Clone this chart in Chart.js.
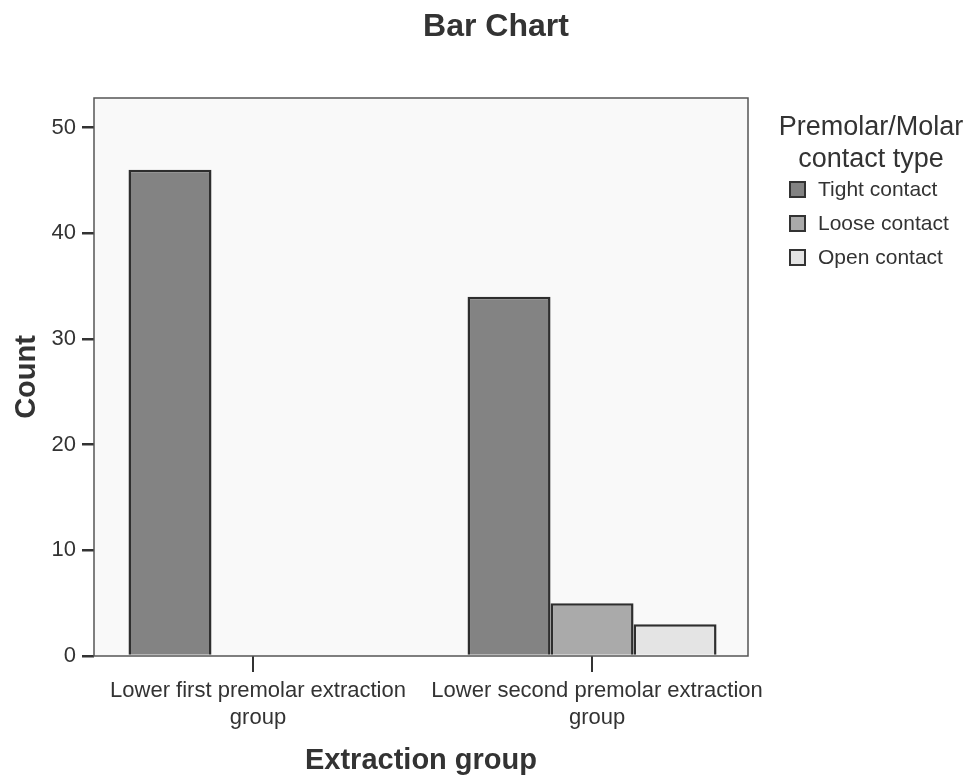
<!DOCTYPE html>
<html>
<head>
<meta charset="utf-8">
<script src="https://cdn.jsdelivr.net/npm/chart.js@4/dist/chart.umd.min.js"></script>
<style>
  html, body { margin: 0; padding: 0; background: #ffffff; }
  #wrap { width: 969px; height: 779px; position: relative; }
</style>
</head>
<body>
<div id="wrap"><canvas id="c" width="969" height="779"></canvas></div>
<script>
const chartTitle = 'Bar Chart';
const categories = [
  ['Lower first premolar extraction', 'group'],
  ['Lower second premolar extraction', 'group']
];
const seriesNames = ['Tight contact', 'Loose contact', 'Open contact'];
const tightValues = [46, 34];
const looseValues = [null, 5];
const openValues = [null, 3];
const yTicks = [0, 10, 20, 30, 40, 50];
const legendTitle = ['Premolar/Molar', 'contact type'];
const xTitle = 'Extraction group';
const yTitle = 'Count';

const colors = ['#838383', '#aaaaaa', '#e4e4e4'];
const FONT = "'Liberation Sans', Arial, sans-serif";
const TXT = '#333333';

// category axis whose value window is set explicitly (reference places the groups slightly asymmetrically)
const X_START = -0.469;
const X_RANGE = 1.929;
class ShiftedCategoryScale extends Chart.CategoryScale {
  configure() {
    super.configure();
    this._startValue = X_START;
    this._valueRange = X_RANGE;
  }
}
ShiftedCategoryScale.id = 'shiftedCategory';
ShiftedCategoryScale.defaults = Chart.CategoryScale.defaults;
Chart.register(ShiftedCategoryScale);

const decor = {
  id: 'decor',
  beforeDatasetsDraw(chart) {
    const {ctx, chartArea: a} = chart;
    ctx.save();
    ctx.fillStyle = '#f9f9f9';
    ctx.fillRect(a.left, a.top, a.right - a.left, a.bottom - a.top);
    ctx.restore();
  },
  afterDraw(chart) {
    const {ctx, chartArea: a} = chart;
    ctx.save();
    ctx.strokeStyle = '#555555';
    ctx.lineWidth = 1.5;
    ctx.strokeRect(a.left, a.top, a.right - a.left, a.bottom - a.top);
    // title
    ctx.fillStyle = TXT;
    ctx.textAlign = 'center';
    ctx.textBaseline = 'middle';
    ctx.font = "bold 32px " + FONT;
    ctx.fillText(chartTitle, 496, 27);
    // legend
    ctx.font = "27px " + FONT;
    ctx.fillText(legendTitle[0], 871, 128);
    ctx.fillText(legendTitle[1], 871, 160);
    ctx.font = "21px " + FONT;
    ctx.textAlign = 'left';
    chart.data.datasets.forEach((ds, i) => {
      const y = 190 + i * 34;
      ctx.fillStyle = ds.backgroundColor;
      ctx.fillRect(790, y - 8, 15, 15);
      ctx.strokeStyle = '#333333';
      ctx.lineWidth = 2;
      ctx.strokeRect(790, y - 8, 15, 15);
      ctx.fillStyle = TXT;
      ctx.fillText(ds.label, 818, y);
    });
    ctx.restore();
  }
};

new Chart(document.getElementById('c'), {
  type: 'bar',
  data: {
    labels: categories,
    datasets: [
      { label: seriesNames[0], data: tightValues, backgroundColor: colors[0] },
      { label: seriesNames[1], data: looseValues, backgroundColor: colors[1] },
      { label: seriesNames[2], data: openValues, backgroundColor: colors[2] }
    ]
  },
  options: {
    responsive: false,
    animation: false,
    devicePixelRatio: 1,
    layout: { padding: { top: 98, right: 221, left: 0, bottom: 0 } },
    datasets: {
      bar: {
        borderColor: '#2e2e2e',
        borderWidth: 2.5,
        categoryPercentage: 0.7345,
        barPercentage: 1
      }
    },
    plugins: {
      legend: { display: false },
      tooltip: { enabled: false },
      title: { display: false }
    },
    scales: {
      x: {
        type: 'shiftedCategory',
        offset: true,
        grid: { display: true, drawOnChartArea: false, offset: false, drawTicks: true, tickLength: 16, color: '#333333', lineWidth: 2 },
        border: { display: false },
        ticks: { color: TXT, font: { family: FONT, size: 22, lineHeight: 1.23 }, padding: 5, labelOffset: 5, maxRotation: 0, autoSkip: false },
        title: { display: true, text: xTitle, color: TXT, font: { family: FONT, size: 29, weight: 'bold' }, padding: { top: 0, bottom: 1 } },
        afterFit(scale) { scale.height = 779 - 656; }
      },
      y: {
        min: 0,
        max: 52.8,
        afterBuildTicks(scale) { scale.ticks = yTicks.map(v => ({ value: v })); },
        grid: { display: true, drawOnChartArea: false, drawTicks: true, tickLength: 12, color: '#333333', lineWidth: 2.5 },
        border: { display: false },
        ticks: { color: TXT, font: { family: FONT, size: 22 }, padding: 6 },
        title: { display: true, text: yTitle, color: TXT, font: { family: FONT, size: 29, weight: 'bold' }, padding: { top: 10, bottom: 0 } },
        afterFit(scale) { scale.width = 94; }
      }
    }
  },
  plugins: [decor]
});
</script>
</body>
</html>
